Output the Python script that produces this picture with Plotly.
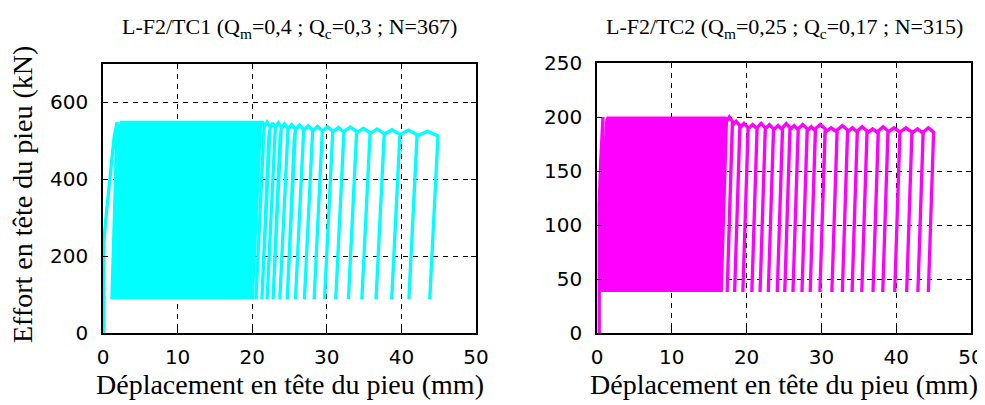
import plotly.graph_objects as go

# ---------------- data ----------------
# Left test: L-F2/TC1
left_init_x = [0.1, 0.1, 0.4, 1.0, 1.5, 1.9]
left_init_y = [0, 235, 300, 425, 510, 548]
left_qmin = 88
left_dense_qmax = 550
left_dense_starts = [1.2, 1.6, 2.0, 2.4, 2.8, 3.2, 3.6, 4.0, 4.4, 4.8, 5.2, 5.6,
                     6.0, 6.4, 6.8, 7.2, 7.6, 8.0, 8.4, 8.8, 9.2, 9.6, 10.0, 10.4,
                     10.8, 11.2, 11.6, 12.0, 12.4, 12.8, 13.2, 13.6, 14.0, 14.4,
                     14.8, 15.2, 15.6, 16.0, 16.4, 16.8, 17.2, 17.6, 18.0, 18.4,
                     18.8, 19.2, 19.6, 20.0]
left_sparse_starts = [20.5, 21.3, 22.0, 22.8, 23.7, 24.7, 25.8, 27.0, 28.3,
                      29.7, 31.2, 32.9, 34.7, 36.6, 38.7, 41.0, 43.8]
left_sparse_peaks = [548, 545, 546, 543, 541, 540, 538, 537, 536,
                     534, 535, 532, 530, 528, 527, 524]

# Right test: L-F2/TC2
right_init_x = [0.3, 0.3, 0.5, 0.8]
right_init_y = [0, 120, 160, 200]
right_qmin = 38
right_dense_qmax = 200
right_dense_starts = [0.6, 1.0, 1.4, 1.8, 2.2, 2.6, 3.0, 3.4, 3.8, 4.2, 4.6, 5.0,
                      5.4, 5.8, 6.2, 6.6, 7.0, 7.4, 7.8, 8.2, 8.6, 9.0, 9.4, 9.8,
                      10.2, 10.6, 11.0, 11.4, 11.8, 12.2, 12.6, 13.0, 13.4, 13.8,
                      14.2, 14.6, 15.0, 15.4, 15.8, 16.2, 16.6]
right_sparse_starts = [17.4, 18.4, 19.5, 20.7, 21.8, 22.9, 24.1, 25.1, 26.2, 27.4,
                       28.5, 29.8, 31.4, 32.8, 34.1, 35.4, 36.9, 38.2, 39.8, 41.4,
                       42.9, 44.3]
right_sparse_peaks = [196, 194, 193, 194, 193, 192, 194, 192, 193, 191, 193,
                      190, 192, 190, 191, 189, 191, 190, 190, 189, 190]

x_ticks = [0, 10, 20, 30, 40, 50]
left_y_ticks = [0, 200, 400, 600]
right_y_ticks = [0, 50, 100, 150, 200, 250]

left_title = "L-F2/TC1 (Q<sub>m</sub>=0,4 ; Q<sub>c</sub>=0,3 ; N=367)"
right_title = "L-F2/TC2 (Q<sub>m</sub>=0,25 ; Q<sub>c</sub>=0,17 ; N=315)"
x_label = "Déplacement en tête du pieu (mm)"
y_label = "Effort en tête du pieu (kN)"


def build_path(init_x, init_y, starts, peaks, qmin, elastic, bend):
    xs = list(init_x)
    ys = list(init_y)
    n = len(starts)
    for i in range(n):
        xs.append(starts[i]); ys.append(qmin)
        if i < n - 1:
            p = peaks[i]
            xs += [starts[i] + elastic * 0.85, starts[i] + elastic,
                   (starts[i] + starts[i + 1]) / 2 + elastic,
                   starts[i + 1] + elastic]
            ys += [p - 3 * bend, p - bend, p, p - bend]
    return xs, ys


lx, ly = build_path(left_init_x, left_init_y,
                    left_dense_starts + left_sparse_starts,
                    [left_dense_qmax] * len(left_dense_starts) + left_sparse_peaks,
                    left_qmin, 1.1, 12)
rx, ry = build_path(right_init_x, right_init_y,
                    right_dense_starts + right_sparse_starts,
                    [right_dense_qmax] * len(right_dense_starts) + right_sparse_peaks,
                    right_qmin, 0.7, 4)

# page body has an 8px margin: figure pixel = reference pixel - 8
W, H = 977, 397
OFF = 8


def px(v):
    return (v - OFF) / W


def py(v):
    return 1 - (v - OFF) / H


fig = go.Figure()
fig.add_trace(go.Scatter(x=lx, y=ly, mode="lines", line=dict(color="#00FFFF", width=3.3),
                         xaxis="x", yaxis="y", showlegend=False, hoverinfo="skip"))
fig.add_trace(go.Scatter(x=rx, y=ry, mode="lines", line=dict(color="#FF00FF", width=3.3),
                         xaxis="x2", yaxis="y2", showlegend=False, hoverinfo="skip"))

tick_font = dict(family="DejaVu Sans", size=20, color="black")
serif = "Liberation Serif"
label_font = dict(family=serif, size=28, color="black")
title_font = dict(family=serif, size=22, color="black")

common_axis = dict(showline=True, mirror="ticks", linecolor="black", linewidth=1.5,
                   ticks="inside", ticklen=5, tickcolor="black", tickwidth=1,
                   showgrid=True, gridcolor="black", gridwidth=1.2, griddash="5px,5px",
                   zeroline=False, tickfont=tick_font, fixedrange=True, automargin=False,
                   ticklabeloverflow="allow")

fig.update_layout(
    width=W, height=H,
    margin=dict(l=0, r=0, t=0, b=0, autoexpand=False),
    paper_bgcolor="white", plot_bgcolor="white",
    xaxis=dict(domain=[px(103), px(476)], range=[0, 50], tickvals=x_ticks,
               anchor="y", ticklabelstandoff=5, **common_axis),
    yaxis=dict(domain=[py(333), py(63.5)], range=[0, 700], tickvals=left_y_ticks,
               anchor="x", ticklabelstandoff=9, **common_axis),
    xaxis2=dict(domain=[px(597), px(971)], range=[0, 50], tickvals=x_ticks,
                anchor="y2", ticklabelstandoff=5, **common_axis),
    yaxis2=dict(domain=[py(333), py(63)], range=[0, 250], tickvals=right_y_ticks,
                anchor="x2", ticklabelstandoff=9, **common_axis),
    annotations=[
        dict(text=left_title, x=px((103 + 476) / 2), y=py(28), xref="paper", yref="paper",
             showarrow=False, font=title_font, xanchor="center", yanchor="middle"),
        dict(text=right_title, x=px((597 + 971) / 2), y=py(28), xref="paper", yref="paper",
             showarrow=False, font=title_font, xanchor="center", yanchor="middle"),
        dict(text=x_label, x=px((103 + 476) / 2), y=py(384), xref="paper", yref="paper",
             showarrow=False, font=label_font, xanchor="center", yanchor="middle"),
        dict(text=x_label, x=px((597 + 971) / 2), y=py(384), xref="paper", yref="paper",
             showarrow=False, font=label_font, xanchor="center", yanchor="middle"),
        dict(text=y_label, x=px(22), y=py(195), xref="paper", yref="paper", textangle=-90,
             showarrow=False, font=label_font, xanchor="center", yanchor="middle"),
    ],
)

fig.write_html("out.html")
